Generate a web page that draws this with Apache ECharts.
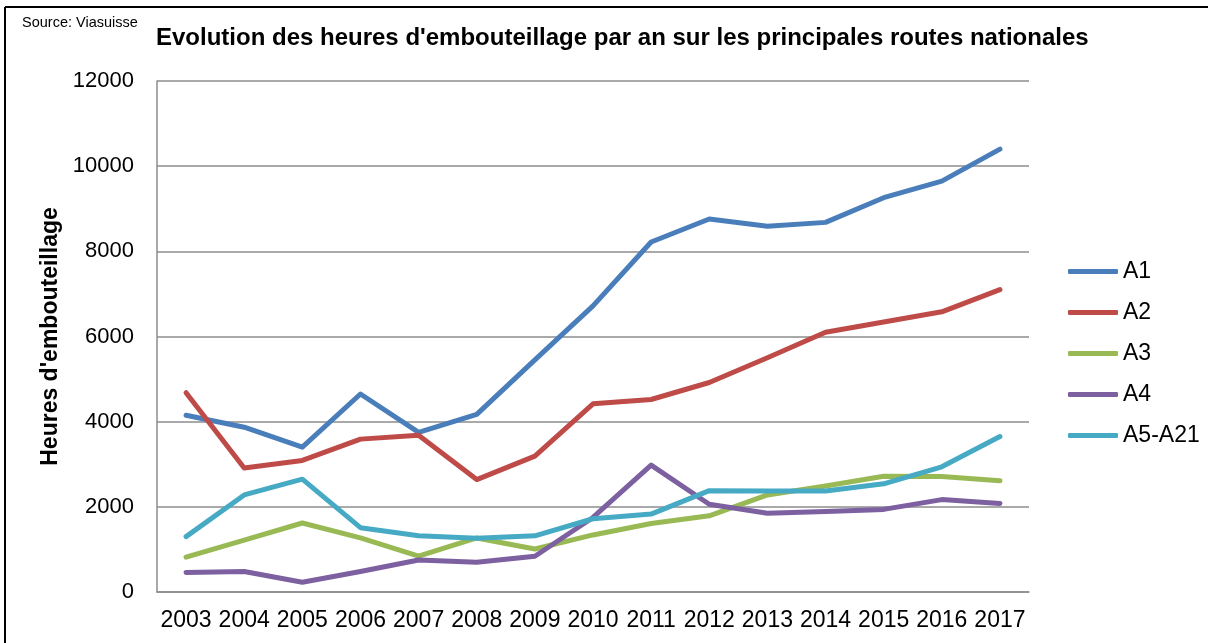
<!DOCTYPE html>
<html>
<head>
<meta charset="utf-8">
<title>Evolution des heures d'embouteillage</title>
<script src="https://cdn.jsdelivr.net/npm/echarts@6/dist/echarts.min.js"></script>
<style>
  html, body { margin: 0; padding: 0; background: #fff; }
  #chart { width: 1208px; height: 643px; }
</style>
</head>
<body>
<div id="chart"></div>
<script>
// annees (axe x)
var years = ["2003", "2004", "2005", "2006", "2007", "2008", "2009", "2010",
             "2011", "2012", "2013", "2014", "2015", "2016", "2017"];

// heures d'embouteillage
var a1    = [4150, 3870, 3400, 4650, 3750, 4170, 5450, 6720, 8220, 8760, 8590, 8680, 9260, 9650, 10400];
var a2    = [4680, 2910, 3090, 3590, 3680, 2640, 3190, 4420, 4520, 4920, 5500, 6100, 6340, 6580, 7100];
var a3    = [820, 1220, 1620, 1270, 840, 1270, 1010, 1340, 1610, 1790, 2280, 2490, 2720, 2710, 2610];
var a4    = [460, 480, 230, 480, 750, 700, 840, 1750, 2980, 2060, 1850, 1890, 1940, 2170, 2080];
var a5a21 = [1300, 2280, 2650, 1510, 1320, 1260, 1320, 1720, 1830, 2380, 2370, 2370, 2540, 2940, 3650];

var seriesNames = ["A1", "A2", "A3", "A4", "A5-A21"];
var seriesData = [a1, a2, a3, a4, a5a21];
var colors = ["#4a7ebb", "#be4b48", "#98b954", "#7d60a0", "#46aac5"];

var font = "Liberation Sans, Arial, sans-serif";
var gridColor = "#8c8c8c";

var series = [];
for (var i = 0; i < seriesNames.length; i++) {
  series.push({
    name: seriesNames[i],
    type: "line",
    data: seriesData[i],
    symbol: "none",
    lineStyle: { width: 5, cap: "round", join: "round" },
    emphasis: { disabled: true }
  });
}

var chart = echarts.init(document.getElementById("chart"));
chart.setOption({
  animation: false,
  color: colors,
  title: {
    text: "Evolution des heures d'embouteillage par an sur les principales routes nationales",
    left: 151,
    top: 21,
    textStyle: { fontFamily: font, fontSize: 24, fontWeight: "bold", color: "#000" }
  },
  graphic: [
    { type: "line", shape: { x1: 5, y1: 7, x2: 1208, y2: 7 }, style: { stroke: "#000", lineWidth: 2 } },
    { type: "line", shape: { x1: 5, y1: 7, x2: 5, y2: 643 }, style: { stroke: "#000", lineWidth: 2 } },
    { type: "text", left: 22, top: 15,
      style: { text: "Source: Viasuisse", fontFamily: font, fontSize: 14.5, fill: "#000" } }
  ],
  legend: {
    orient: "vertical",
    left: 1063,
    top: 255,
    icon: "roundRect",
    itemWidth: 50,
    itemHeight: 5,
    itemGap: 18,
    textStyle: { fontFamily: font, fontSize: 23, color: "#000" },
    data: seriesNames
  },
  grid: { left: 157, top: 81, right: 179, bottom: 51, containLabel: false },
  xAxis: {
    type: "category",
    data: years,
    boundaryGap: true,
    axisLine: { lineStyle: { color: gridColor, width: 1.5 } },
    axisTick: { show: false },
    axisLabel: { fontFamily: font, fontSize: 23, color: "#000", margin: 17, interval: 0 }
  },
  yAxis: {
    type: "value",
    min: 0,
    max: 12000,
    interval: 2000,
    name: "Heures d'embouteillage",
    nameLocation: "middle",
    nameGap: 90,
    nameTextStyle: { fontFamily: font, fontSize: 23, fontWeight: "bold", color: "#000" },
    axisLine: { show: true, lineStyle: { color: gridColor, width: 1.5 } },
    axisTick: { show: false },
    splitLine: { lineStyle: { color: gridColor, width: 1.5 } },
    axisLabel: {
      fontFamily: font, fontSize: 22, color: "#000", margin: 23,
      formatter: function (v) { return String(v); }
    }
  },
  series: series
});
</script>
</body>
</html>
